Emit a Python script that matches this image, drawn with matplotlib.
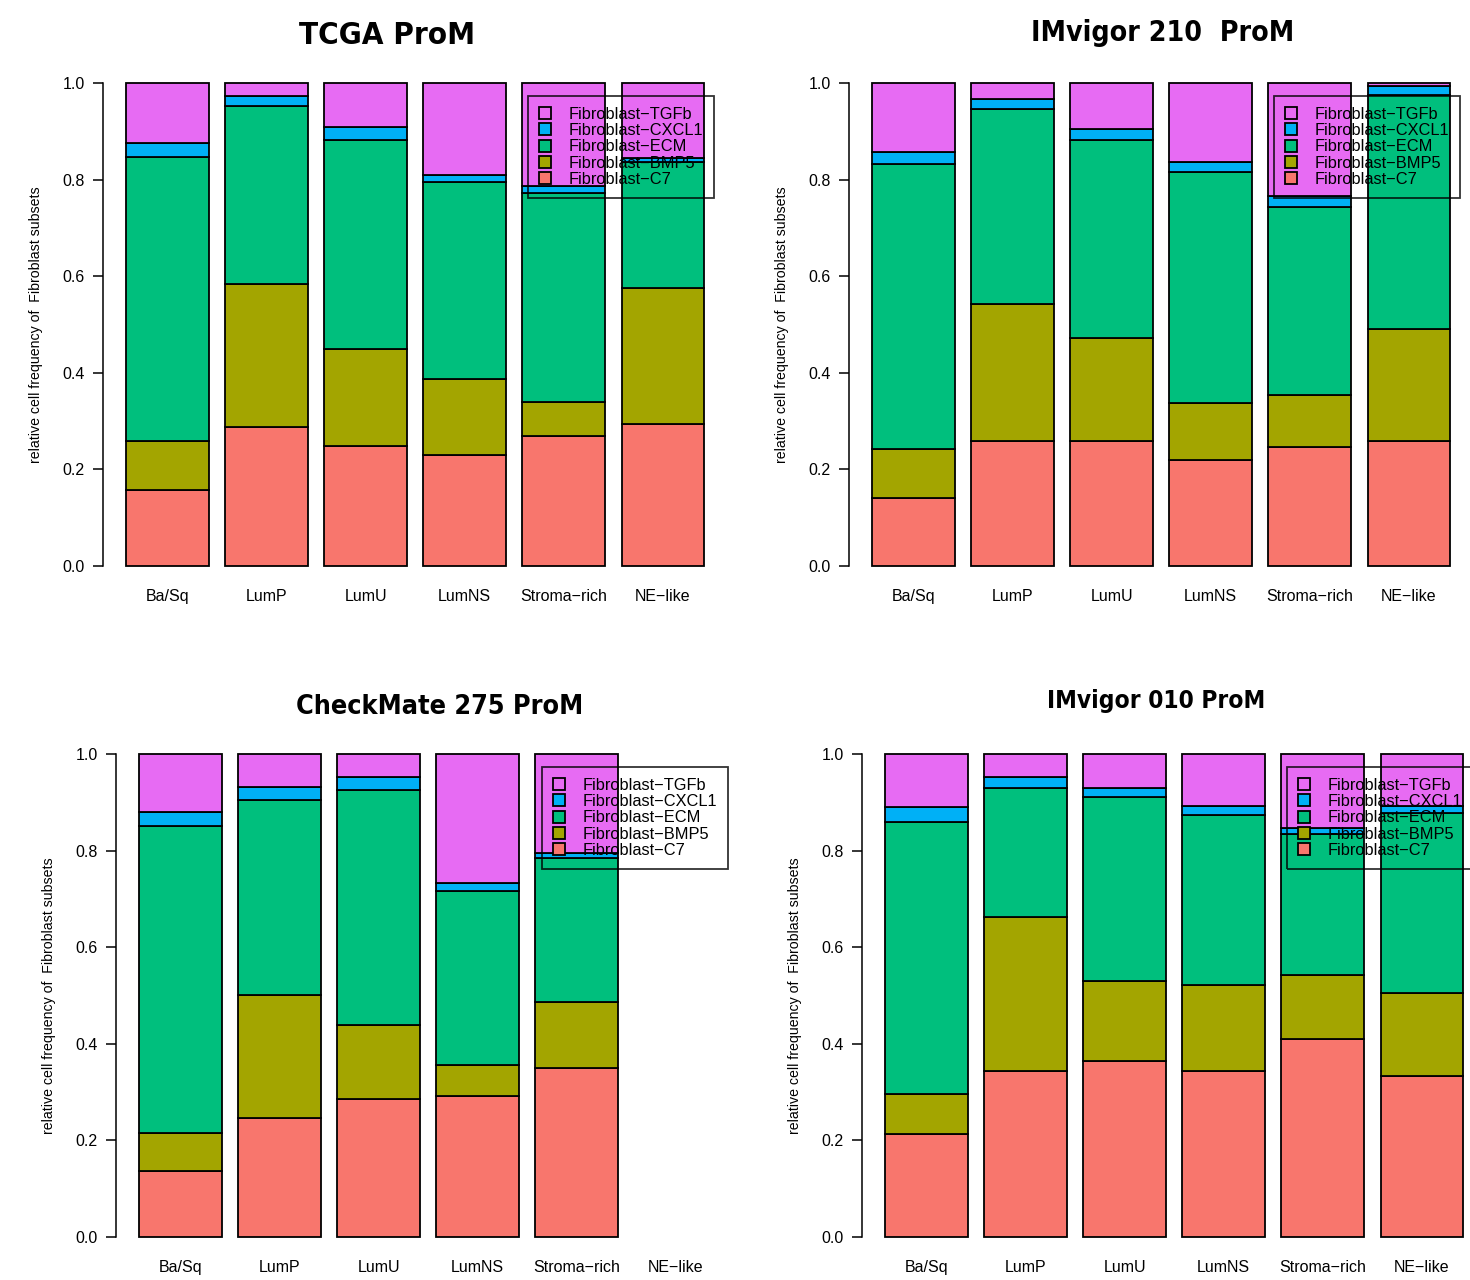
import numpy as np
import matplotlib
matplotlib.use("Agg")
import matplotlib.pyplot as plt
from matplotlib.patches import Patch
from matplotlib import font_manager

plt.rcParams['font.family'] = ['Liberation Sans', 'DejaVu Sans']

categories = ["Ba/Sq", "LumP", "LumU", "LumNS", "Stroma\u2212rich", "NE\u2212like"]
subsets = ["Fibroblast\u2212C7", "Fibroblast\u2212BMP5", "Fibroblast\u2212ECM",
           "Fibroblast\u2212CXCL1", "Fibroblast\u2212TGFb"]
subset_colors = ["#F8766D", "#A3A500", "#00BF7D", "#00B0F6", "#E76BF3"]

# fractions per subtype, columns in subset order: C7, BMP5, ECM, CXCL1, TGFb
tcga = [
    [0.157, 0.102, 0.588, 0.029, 0.124],
    [0.288, 0.296, 0.368, 0.021, 0.027],
    [0.248, 0.201, 0.433, 0.027, 0.091],
    [0.230, 0.157, 0.408, 0.015, 0.190],
    [0.269, 0.071, 0.433, 0.013, 0.214],
    [0.294, 0.282, 0.260, 0.009, 0.155],
]
imvigor210 = [
    [0.141, 0.101, 0.590, 0.025, 0.143],
    [0.259, 0.283, 0.404, 0.021, 0.033],
    [0.259, 0.213, 0.410, 0.023, 0.095],
    [0.219, 0.118, 0.479, 0.020, 0.164],
    [0.246, 0.108, 0.389, 0.023, 0.234],
    [0.259, 0.232, 0.484, 0.019, 0.006],
]
checkmate275 = [
    [0.137, 0.078, 0.636, 0.029, 0.120],
    [0.246, 0.255, 0.404, 0.027, 0.068],
    [0.286, 0.153, 0.486, 0.027, 0.048],
    [0.292, 0.064, 0.360, 0.017, 0.267],
    [0.350, 0.137, 0.298, 0.010, 0.205],
    [np.nan, np.nan, np.nan, np.nan, np.nan],
]
imvigor010 = [
    [0.213, 0.083, 0.563, 0.031, 0.110],
    [0.344, 0.319, 0.267, 0.022, 0.048],
    [0.364, 0.166, 0.381, 0.019, 0.070],
    [0.344, 0.178, 0.352, 0.018, 0.108],
    [0.410, 0.132, 0.292, 0.013, 0.153],
    [0.333, 0.172, 0.373, 0.014, 0.108],
]

titles = ["TCGA ProM", "IMvigor 210  ProM", "CheckMate 275 ProM", "IMvigor 010 ProM"]
title_sizes = [22.5, 20.4, 19.4, 17.6]
datasets = [tcga, imvigor210, checkmate275, imvigor010]

# pick a condensed bold face for the panel titles if one is installed
installed = {f.name for f in font_manager.fontManager.ttflist}
stretches = {(f.name, f.stretch) for f in font_manager.fontManager.ttflist}
title_font = dict(family=["Liberation Sans", "DejaVu Sans"])
size_scale = 0.85
if any(n == "DejaVu Sans" and s == "condensed" for n, s in stretches):
    title_font = dict(family=["DejaVu Sans"], fontstretch="condensed")
    size_scale = 1.0
elif "Liberation Sans Narrow" in installed:
    title_font = dict(family=["Liberation Sans Narrow"])
    size_scale = 1.05

W, H = 1470, 1280
fig = plt.figure(figsize=(W / 100, H / 100), dpi=100)

px_x = 578 / 7.0      # pixels per bar unit
px_y = 483.0          # pixels per unit of frequency
# (axis line x, baseline y, title x, title y, legend left, legend top) in pixels
panels = [
    (103, 566, 387, 35, 528, 96),
    (849, 566, 1163, 33, 1274, 96),
    (116, 1237, 440, 707, 542, 767),
    (862, 1237, 1156, 701, 1287, 767),
]

centers = 0.7 + 1.2 * np.arange(len(categories))

for (ax_x, base_y, tx, ty, lx, ly), data, title, tsize in zip(panels, datasets, titles, title_sizes):
    x0, x1 = -0.08, 7.48
    y0, y1 = -0.04, 1.04
    wpx = (x1 - x0) * px_x
    hpx = (y1 - y0) * px_y
    bottom_px = base_y - y0 * px_y
    ax = fig.add_axes([ax_x / W, 1 - bottom_px / H, wpx / W, hpx / H])
    ax.set_xlim(x0, x1)
    ax.set_ylim(y0, y1)

    vals = np.array(data, dtype=float)
    for i, c in enumerate(centers):
        if not np.all(np.isfinite(vals[i])):
            continue
        bottom = 0.0
        for j in range(len(subsets)):
            ax.bar(c, vals[i, j], width=1.0, bottom=bottom, color=subset_colors[j],
                   edgecolor="black", linewidth=1.3, zorder=2)
            bottom += vals[i, j]

    for s in ["top", "right", "bottom"]:
        ax.spines[s].set_visible(False)
    ax.spines["left"].set_bounds(0, 1)
    ax.spines["left"].set_linewidth(1.1)
    ax.set_yticks([0, 0.2, 0.4, 0.6, 0.8, 1.0])
    ax.set_yticklabels(["0.0", "0.2", "0.4", "0.6", "0.8", "1.0"])
    ax.tick_params(axis="y", direction="out", length=7, width=1.1, pad=6, labelsize=11.5)
    ax.set_xticks(centers)
    ax.set_xticklabels(categories)
    ax.tick_params(axis="x", length=0, pad=3, labelsize=11.5)

    ax.text(-67 / wpx, 0.5, "relative cell frequency of  Fibroblast subsets",
            transform=ax.transAxes, rotation=90, ha="center", va="center", fontsize=10.2)

    fig.text(tx / W, 1 - ty / H, title, ha="center", va="center",
             fontweight="bold", fontsize=tsize * size_scale, **title_font)

    handles = [Patch(facecolor=subset_colors[j], edgecolor="black", linewidth=1.3)
               for j in reversed(range(len(subsets)))]
    labels = [subsets[j] for j in reversed(range(len(subsets)))]
    leg = fig.legend(handles, labels, loc="upper left",
                     bbox_to_anchor=(lx / W, 1 - ly / H), borderaxespad=0,
                     fontsize=11.8, frameon=True, fancybox=False,
                     handlelength=0.75, handleheight=0.75, handletextpad=1.1,
                     labelspacing=0.08, borderpad=0.65)
    frame = leg.get_frame()
    frame.set_facecolor("none")
    frame.set_edgecolor("black")
    frame.set_linewidth(1.3)
    leg.set_zorder(10)

fig.savefig("out.png", dpi=100)
